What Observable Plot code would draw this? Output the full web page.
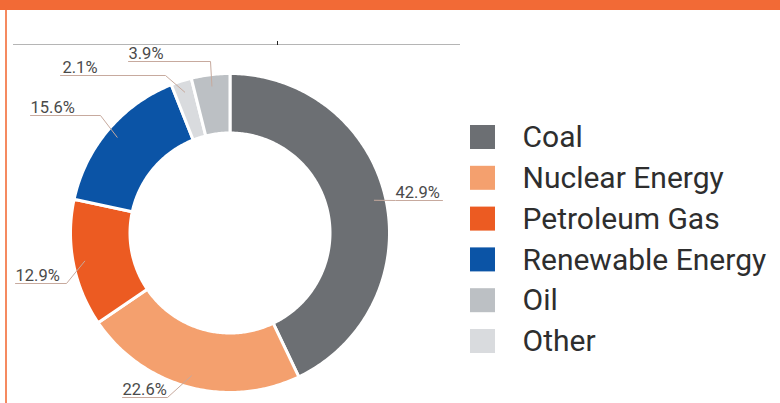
<!DOCTYPE html>
<html>
<head>
<meta charset="utf-8">
<script src="https://cdn.jsdelivr.net/npm/d3@7"></script>
<script src="https://cdn.jsdelivr.net/npm/@observablehq/plot@0.6"></script>
<style>
  html, body { margin: 0; padding: 0; background: #fff; }
  #frame { position: relative; width: 780px; height: 403px; overflow: hidden; background: #fff; }
  #chart { position: absolute; left: 0; top: 0; }
  #topbar { position: absolute; left: 0; top: 0; width: 780px; height: 10px; background: #f26a36; }
  #leftbar { position: absolute; left: 5px; top: 10px; width: 2px; height: 393px; background: #f58a60; }
</style>
</head>
<body>
<div id="frame">
  <div id="chart"></div>
  <div id="topbar"></div>
  <div id="leftbar"></div>
</div>
<script>
// ---- data ----
const categories = ["Coal", "Nuclear Energy", "Petroleum Gas", "Renewable Energy", "Oil", "Other"];
const shares = [42.9, 22.6, 12.9, 15.6, 3.9, 2.1];
const colors = ["#6c6f73", "#f4a06e", "#ec5b22", "#0b54a6", "#bcc0c4", "#d9dbde"];
const sliceOrder = ["Coal", "Nuclear Energy", "Petroleum Gas", "Renewable Energy", "Other", "Oil"];

// ---- layout ----
const cx = 229.5, cy = 232.5, rOuter = 159.5, rInner = 100;
// label layout per slice (in sliceOrder): text start x, baseline y, underline span
const labelX = [395, 122, 15, 30, 62, 128];
const labelY = [197, 394, 280, 112, 72, 58];
const lineX0 = [395, 122, 15, 30, 60, 128];
const lineX1 = [395, 167, 66, 100, 165, 210];
const legendTop = 137, legendStep = 40.8;

const shareOf = Object.fromEntries(categories.map((c, i) => [c, shares[i]]));
const sliceData = sliceOrder.map(name => ({name, value: shareOf[name]}));
const arcs = d3.pie().sort(null).value(d => d.value).startAngle(0).endAngle(2 * Math.PI)(sliceData);

const pt = (a, r) => [cx + r * Math.sin(a), cy - r * Math.cos(a)];

const polys = [];
arcs.forEach(a => {
  const n = Math.max(3, Math.ceil((a.endAngle - a.startAngle) * 80));
  for (let k = 0; k <= n; k++) {
    const t = a.startAngle + (a.endAngle - a.startAngle) * k / n;
    const [x, y] = pt(t, rOuter);
    polys.push({name: a.data.name, x, y});
  }
  for (let k = n; k >= 0; k--) {
    const t = a.startAngle + (a.endAngle - a.startAngle) * k / n;
    const [x, y] = pt(t, rInner);
    polys.push({name: a.data.name, x, y});
  }
});

const labels = [];
const leaders = [];
arcs.forEach((a, i) => {
  const mid = (a.startAngle + a.endAngle) / 2;
  const [ax, ay] = pt(mid, 148);
  const uy = labelY[i] + 3;
  labels.push({text: a.data.value.toFixed(1) + "%", x: labelX[i], y: labelY[i]});
  const right = ax < labelX[i];
  if (right) {
    leaders.push({k: i, x: ax, y: ay});
    leaders.push({k: i, x: lineX0[i], y: uy});
    leaders.push({k: i, x: lineX0[i] + 47, y: uy});
  } else {
    leaders.push({k: i, x: lineX0[i], y: uy});
    leaders.push({k: i, x: lineX1[i], y: uy});
    leaders.push({k: i, x: ax, y: ay});
  }
});

const legend = categories.map((c, i) => ({name: c, y: legendTop + i * legendStep}));

const chart = Plot.plot({
  width: 780,
  height: 403,
  margin: 0,
  style: {background: "transparent"},
  x: {domain: [0, 780], range: [0, 780], axis: null},
  y: {domain: [0, 403], range: [0, 403], axis: null},
  color: {domain: categories, range: colors},
  marks: [
    Plot.ruleY([44], {x1: 13, x2: 460, stroke: "#b5b5b5", strokeWidth: 1.2}),
    Plot.ruleX([277], {y1: 41, y2: 45, stroke: "#222", strokeWidth: 1}),
    Plot.line(polys, {x: "x", y: "y", z: "name", fill: "name", stroke: "white", strokeWidth: 3, curve: "linear-closed"}),
    Plot.line(leaders, {x: "x", y: "y", z: "k", stroke: "#c7aa9e", strokeWidth: 1}),
    Plot.text(labels, {x: "x", y: "y", text: "text", textAnchor: "start", lineAnchor: "bottom", fontSize: 16.5, fill: "#4a4a4a", fontFamily: "Roboto"}),
    Plot.rect(legend, {x1: 470, x2: 495, y1: d => d.y - 12, y2: d => d.y + 12, fill: "name"}),
    Plot.text(legend, {x: 522, y: "y", text: "name", textAnchor: "start", lineAnchor: "middle", fontSize: 30, fill: "#2e2e2e", fontFamily: "Roboto", letterSpacing: "0.2px"})
  ]
});
document.getElementById("chart").appendChild(chart);
</script>
</body>
</html>
